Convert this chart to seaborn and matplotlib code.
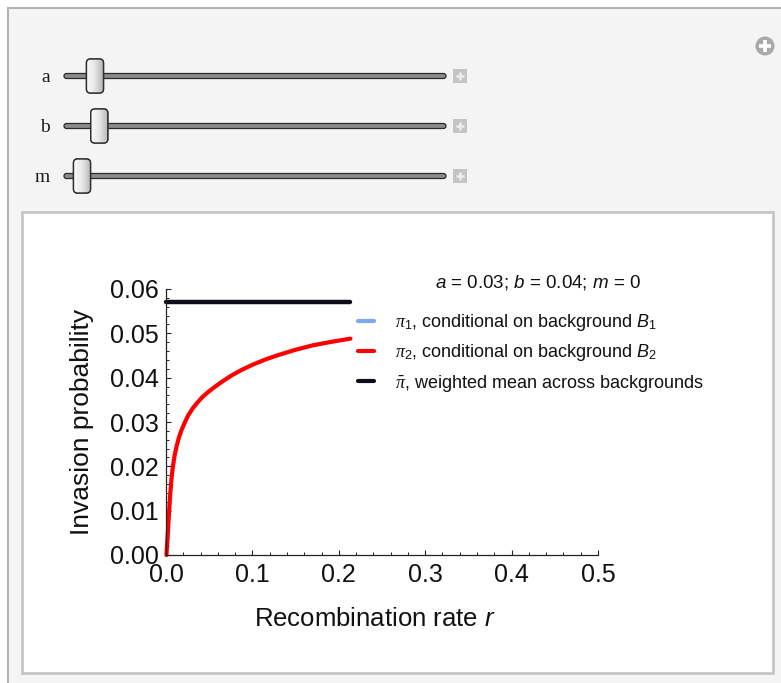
import numpy as np
import pandas as pd
import matplotlib
matplotlib.use("Agg")
import matplotlib.pyplot as plt
import seaborn as sns
from matplotlib.patches import Rectangle, FancyBboxPatch, Circle
from matplotlib.lines import Line2D
from matplotlib.ticker import MultipleLocator, FormatStrFormatter

# ---- slider parameters ----
param_names = ["a", "b", "m"]
param_values = [0.03, 0.04, 0.0]
slider_range = (0.0, 0.8)

# ---- invasion probability on background B2 vs recombination rate ----
r_pi2 = [0.0005, 0.002, 0.0035, 0.005, 0.0065, 0.008, 0.010, 0.0125, 0.015,
         0.018, 0.022, 0.026, 0.031, 0.036, 0.042, 0.049, 0.057, 0.065,
         0.075, 0.087, 0.100, 0.115, 0.130, 0.150, 0.170, 0.192, 0.2135]
pi2 = [0.0, 0.0045, 0.0095, 0.0140, 0.0175, 0.0200, 0.0225, 0.0247, 0.0265,
       0.0282, 0.0300, 0.0316, 0.0331, 0.0343, 0.0356, 0.0368, 0.0380, 0.0391,
       0.0404, 0.0417, 0.0429, 0.0441, 0.0451, 0.0463, 0.0473, 0.0481, 0.0488]

# ---- weighted mean across backgrounds ----
r_pibar = [0.0, 0.2135]
pibar = [0.057, 0.057]

x_ticks = [0.0, 0.1, 0.2, 0.3, 0.4, 0.5]
y_ticks = [0.00, 0.01, 0.02, 0.03, 0.04, 0.05, 0.06]

legend_labels = [
    r"$\pi_1$, conditional on background $\mathsf{B}_1$",
    r"$\pi_2$, conditional on background $\mathsf{B}_2$",
    r"$\bar{\pi}$, weighted mean across backgrounds",
]
series_colors = ["#7fa6ee", "#ff0000", "#0d0d18"]

sns.set_theme(style="white")
plt.rcParams["font.family"] = ["Liberation Sans", "DejaVu Sans"]
plt.rcParams["mathtext.fontset"] = "custom"
plt.rcParams["mathtext.rm"] = "Liberation Sans"
plt.rcParams["mathtext.it"] = "Liberation Serif:italic"
plt.rcParams["mathtext.sf"] = "Liberation Sans:italic"

W, H = 781, 683
fig = plt.figure(figsize=(W / 100, H / 100), dpi=100, facecolor="white")

# ---- control panel drawn in pixel coordinates ----
ui = fig.add_axes([0, 0, 1, 1], zorder=0)
ui.set_xlim(0, W)
ui.set_ylim(H, 0)
ui.axis("off")

ui.add_patch(Rectangle((8, 8), W + 20, H + 20, facecolor="#f4f4f4",
                       edgecolor="#b2b2b2", lw=1.5))
ui.add_patch(Rectangle((22, 212), 751, 461, facecolor="white",
                       edgecolor="#c6c6c6", lw=2.0))

# top-right "+" icon
ui.add_patch(Circle((765, 46), 9.5, facecolor="#a9a9a9", edgecolor="none"))
ui.plot([759, 771], [46, 46], color="white", lw=2.6, solid_capstyle="butt")
ui.plot([765, 765], [40, 52], color="white", lw=2.6, solid_capstyle="butt")

track_x0, track_x1 = 64, 446
thumb_x0, thumb_span = 82, 346
grad = np.linspace(0, 1, 64).reshape(1, -1)
thumb_cmap = matplotlib.colors.LinearSegmentedColormap.from_list(
    "thumb", ["#fbfbfb", "#e6e6e6", "#b9b9b9"])
for i, (name, val) in enumerate(zip(param_names, param_values)):
    yc = 76 + 50 * i
    ui.text(50, yc + 1, name, ha="right", va="center", fontsize=14,
            family="Liberation Serif", color="#1a1a1a")
    ui.add_patch(FancyBboxPatch((track_x0, yc - 2.5), track_x1 - track_x0, 5,
                                boxstyle="round,pad=0,rounding_size=2.5",
                                facecolor="#8c8c8c", edgecolor="#2b2b2b", lw=0.9))
    tx = thumb_x0 + (val - slider_range[0]) / (slider_range[1] - slider_range[0]) * thumb_span
    thumb = FancyBboxPatch((tx - 8.5, yc - 17), 17, 34,
                           boxstyle="round,pad=0,rounding_size=4",
                           facecolor="#eeeeee", edgecolor="#2e2e2e", lw=1.0, zorder=3)
    ui.add_patch(thumb)
    im = ui.imshow(grad, extent=(tx - 8.5, tx + 8.5, yc + 17, yc - 17),
                   cmap=thumb_cmap, aspect="auto", zorder=3.5, interpolation="bilinear")
    im.set_clip_path(thumb)
    ui.add_patch(FancyBboxPatch((tx - 8.5, yc - 17), 17, 34,
                                boxstyle="round,pad=0,rounding_size=4",
                                facecolor="none", edgecolor="#2e2e2e", lw=1.0, zorder=4))
    # "+" box at slider end
    ui.add_patch(Rectangle((453, yc - 7), 14, 14, facecolor="#c4c4c4", edgecolor="none"))
    ui.plot([456, 464], [yc, yc], color="#eeeeee", lw=1.8, solid_capstyle="butt")
    ui.plot([460, 460], [yc - 4, yc + 4], color="#eeeeee", lw=1.8, solid_capstyle="butt")

ui.set_xlim(0, W)
ui.set_ylim(H, 0)

# ---- plot ----
ax = fig.add_axes([166 / W, (H - 555) / H, 432 / W, 266 / H], zorder=2)
ax.patch.set_alpha(0)

df_pi2 = pd.DataFrame({"r": r_pi2, "pi": pi2})
df_bar = pd.DataFrame({"r": r_pibar, "pi": pibar})
sns.lineplot(data=df_bar, x="r", y="pi", ax=ax, color=series_colors[2],
             lw=3.2, sort=False, estimator=None, clip_on=False)
sns.lineplot(data=df_pi2, x="r", y="pi", ax=ax, color=series_colors[1],
             lw=3.0, sort=False, estimator=None, clip_on=False,
             solid_joinstyle="round")

ax.set_xlim(0, 0.5)
ax.set_ylim(0, 0.06)
ax.set_xticks(x_ticks)
ax.set_yticks(y_ticks)
ax.xaxis.set_major_formatter(FormatStrFormatter("%.1f"))
ax.yaxis.set_major_formatter(FormatStrFormatter("%.2f"))
ax.xaxis.set_minor_locator(MultipleLocator(0.02))
ax.yaxis.set_minor_locator(MultipleLocator(0.002))
ax.tick_params(which="major", direction="in", length=3.6, width=0.8,
               color="#222222", labelsize=18, labelcolor="#111111", pad=5)
ax.tick_params(axis="x", which="major", pad=6)
ax.tick_params(which="minor", direction="in", length=2.2, width=0.7, color="#222222")
ax.tick_params(axis="both", which="both", bottom=True, left=True)
for s in ["top", "right"]:
    ax.spines[s].set_visible(False)
for s in ["left", "bottom"]:
    ax.spines[s].set_color("#222222")
    ax.spines[s].set_linewidth(0.9)

ax.set_xlabel(r"Recombination rate $\mathsf{r}$", fontsize=18.5, color="#111111")
ax.set_ylabel("Invasion probability", fontsize=19, color="#111111")
ax.xaxis.set_label_coords((375 - 166) / 432, (555 - 607) / 266)
ax.yaxis.set_label_coords((94 - 166) / 432, 0.5)

# parameter summary above the legend
title = "; ".join(rf"$\mathsf{{{n}}}$ = {v:g}" for n, v in zip(param_names, param_values))
fig.text(538 / W, 1 - 283 / H, title, ha="center", va="center",
         fontsize=13.5, color="#111111")

handles = [Line2D([], [], color=c, lw=3.0) for c in series_colors]
leg = ax.legend(handles, legend_labels, loc="upper left",
                bbox_to_anchor=(358 / W, (H - 312) / H), bbox_transform=fig.transFigure,
                frameon=False, fontsize=13,
                handlelength=0.9, handletextpad=1.17, labelspacing=0.52,
                borderpad=0, borderaxespad=0)
for t in leg.get_texts():
    t.set_color("#111111")

fig.savefig("out.png", dpi=100, facecolor=fig.get_facecolor())
